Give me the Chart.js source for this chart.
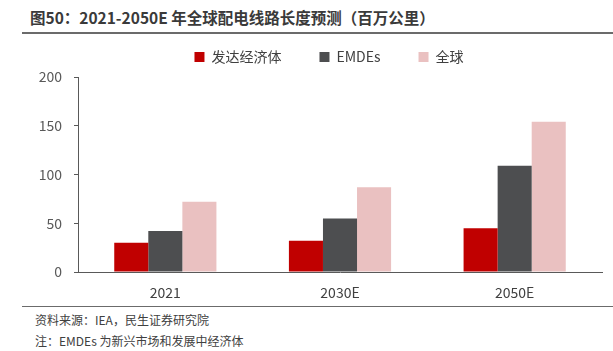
<!DOCTYPE html>
<html>
<head>
<meta charset="utf-8">
<script src="https://cdn.jsdelivr.net/npm/chart.js@4.4.0/dist/chart.umd.min.js"></script>
<style>
    body { margin: 0; background: #fff; width: 613px; height: 351px; position: relative; overflow: hidden;
           font-family: "Noto Sans CJK SC", "Open Sans", sans-serif; }
    #title { position: absolute; left: 30px; top: 6px; font-size: 15.5px; font-weight: bold; color: #3a3a3a; }
    #titleLine { position: absolute; left: 22px; right: 0; top: 32px; height: 2px; background: #6b6b6b; }
    #footLine { position: absolute; left: 22px; right: 0; top: 306px; height: 1px; background: #6b6b6b; }
    .foot { position: absolute; left: 35px; font-size: 12px; color: #404040; }
    #wrap { position: absolute; left: 0; top: 12px; width: 613px; height: 290px; }
</style>
</head>
<body>
<div id="title">图50：2021-2050E 年全球配电线路长度预测（百万公里）</div>
<div id="titleLine"></div>
<div id="wrap"><canvas id="chart" width="613" height="290"></canvas></div>
<div id="footLine"></div>
<div class="foot" style="top:311px">资料来源：IEA，民生证券研究院</div>
<div class="foot" style="top:332px">注：EMDEs 为新兴市场和发展中经济体</div>
<script>
const categories = ['2021', '2030E', '2050E'];
const advanced = [30, 32, 45];
const emdes = [42, 55, 109];
const world = [72, 87, 154];
const yTicks = [0, 50, 100, 150, 200];

const FONT = '"Noto Sans CJK SC", "Open Sans", sans-serif';

// push the plot down below the legend and nudge the legend right
const legendTweak = {
    id: 'legendTweak',
    beforeInit(chart) {
        const origFit = chart.legend.fit;
        chart.legend.fit = function () {
            origFit.bind(chart.legend)();
            this.height += 3;
        };
    },
    afterLayout(chart) {
        chart.legend.left += 28;
        chart.legend.right += 28;
    }
};

new Chart(document.getElementById('chart'), {
    type: 'bar',
    data: {
        labels: categories,
        datasets: [
            { label: '发达经济体', data: advanced, backgroundColor: '#C00000' },
            { label: 'EMDEs', data: emdes, backgroundColor: '#4D4E50' },
            { label: '全球', data: world, backgroundColor: '#EAC1C1' }
        ]
    },
    options: {
        responsive: false,
        animation: false,
        devicePixelRatio: 1,
        datasets: { bar: { categoryPercentage: 0.585, barPercentage: 1 } },
        layout: { padding: { top: 0, right: 11, left: 0, bottom: 0 } },
        plugins: {
            legend: {
                labels: {
                    boxWidth: 10, boxHeight: 10, padding: 38,
                    color: '#404040', font: { family: FONT, size: 14 }
                }
            },
            tooltip: { enabled: false }
        },
        scales: {
            x: {
                grid: { display: false },
                border: { color: '#595959', width: 1 },
                ticks: { color: '#404040', font: { family: FONT, size: 14 }, padding: 4 },
                afterFit(s) { s.height = 30; }
            },
            y: {
                min: 0, max: 200,
                afterBuildTicks(s) { s.ticks = yTicks.map(v => ({ value: v })); },
                grid: { drawOnChartArea: false, drawTicks: true, tickLength: 4, color: '#595959' },
                border: { color: '#595959', width: 1 },
                ticks: { color: '#595959', font: { family: FONT, size: 14 }, padding: 12 },
                afterFit(s) { s.width = 78; }
            }
        }
    },
    plugins: [legendTweak]
});
</script>
</body>
</html>
